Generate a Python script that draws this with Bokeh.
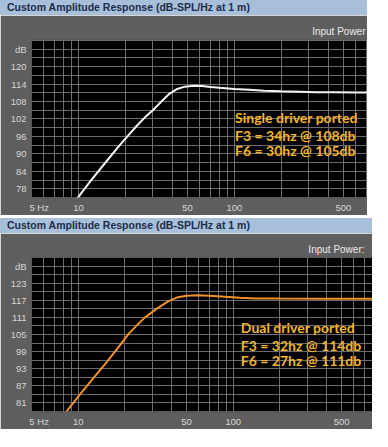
from bokeh.plotting import figure
from bokeh.models import FixedTicker, Div
from bokeh.layouts import column
from bokeh.core.properties import value
from bokeh.embed import file_html
from bokeh.resources import INLINE

HEADER = "Custom Amplitude Response (dB-SPL/Hz at 1 m)"

# Single driver ported (white curve)
freq_single = [9.5, 10, 12, 15, 18, 20.6, 24, 27, 30, 34, 38, 43, 48, 55, 62, 70, 80,
               100, 125, 155, 200, 260, 330, 450, 600, 800]
db_single = [73.5, 75.2, 80.8, 87.2, 92.4, 96.0, 100.0, 102.8, 105.0, 108.0, 110.5, 112.3,
             113.1, 113.4, 113.3, 113.0, 112.7, 112.3, 112.0, 111.7, 111.5, 111.35, 111.2,
             111.15, 111.1, 111.1]

# Dual driver ported (orange curve)
freq_dual = [8, 8.4, 10, 12, 15, 18, 21.2, 24, 27, 32, 38, 44, 50, 60, 70, 89, 110, 140,
             200, 400, 900]
db_dual = [76.5, 78.0, 83.2, 88.5, 94.8, 100.2, 105.3, 108.3, 111.0, 114.0, 116.6, 118.1,
           118.6, 118.8, 118.6, 118.2, 117.9, 117.65, 117.6, 117.55, 117.55]

x_tick_hz = [5, 10, 50, 100, 500]
x_tick_labels = ["5 Hz", "10", "50", "100", "500"]
x_grid_hz = [5, 6, 7, 8, 9, 10, 20, 30, 40, 50, 60, 70, 80, 90, 100,
             200, 300, 400, 500, 600, 700, 800, 900]

y_ticks_single = [78, 84, 90, 96, 102, 108, 114, 120, 126]
y_labels_single = ["78", "84", "90", "96", "102", "108", "114", "120", "dB"]
y_grid_single = [75, 78, 81, 84, 87, 90, 93, 96, 99, 102, 105, 108, 111, 114, 117, 120, 123, 126, 129]

y_ticks_dual = [81, 87, 93, 99, 105, 111, 117, 123, 129]
y_labels_dual = ["81", "87", "93", "99", "105", "111", "117", "123", "dB"]
y_grid_dual = [78, 81, 84, 87, 90, 93, 96, 99, 102, 105, 108, 111, 114, 117, 120, 123, 126, 129, 132]

notes_single = ["Single driver ported", "F3 = 34hz @ 108db", "F6 = 30hz @ 105db"]
notes_dual = ["Dual driver ported", "F3 = 32hz @ 114db", "F6 = 27hz @ 111db"]

PANEL = "#5e5e5e"
HEAD_BG = "#a8bfd9"
GRID = "#6c6c6c"
TXT = "#d6d6d6"
NOTE = "#f2b52c"


def header(width, top_gap):
    html = ('<div style="background:%s;height:15px;line-height:15px;padding-left:7px;'
            'box-sizing:border-box;width:%dpx;font-family:\'Liberation Sans\';font-weight:bold;'
            'font-size:10.5px;color:#1c2c4c;white-space:nowrap;overflow:hidden;">%s</div>'
            % (HEAD_BG, width, HEADER))
    return Div(text=html, width=width, height=15, margin=(top_gap, 0, 0, 0))


def panel(width, height, xr, yr, left, top, bottom, title_text, title_offset,
          yt, yl, yg, fx, fy, color, notes, nx, ny):
    p = figure(width=width, height=height, x_axis_type="log", x_range=xr, y_range=yr,
               output_backend="svg", toolbar_location=None,
               min_border_left=left, min_border_right=0, min_border_top=top,
               min_border_bottom=bottom)
    p.background_fill_color = "black"
    p.border_fill_color = PANEL
    p.outline_line_color = None

    p.title.text = title_text
    p.title.align = "right"
    p.title.text_color = "#e8e8e8"
    p.title.text_font = "Liberation Sans"
    p.title.text_font_style = "normal"
    p.title.text_font_size = "10px"
    p.title.standoff = 6
    p.title.offset = title_offset

    # x axis: first label sits just right of the 5 Hz edge, as in the original
    label_pos = [5.6] + x_tick_hz[1:]
    p.xaxis.ticker = FixedTicker(ticks=label_pos)
    p.xaxis.major_label_overrides = {k: v for k, v in zip(label_pos, x_tick_labels)}
    p.yaxis.ticker = FixedTicker(ticks=yt)
    p.yaxis.major_label_overrides = {k: v for k, v in zip(yt, yl)}
    for ax in (p.xaxis[0], p.yaxis[0]):
        ax.axis_line_color = None
        ax.major_tick_line_color = None
        ax.minor_tick_line_color = None
        ax.major_tick_in = 0
        ax.major_tick_out = 0
        ax.major_label_text_color = TXT
        ax.major_label_text_font = "Liberation Sans"
        ax.major_label_text_font_size = "9.5px"
    p.xaxis.major_label_standoff = 4
    p.yaxis.major_label_standoff = 5

    p.xgrid.ticker = FixedTicker(ticks=x_grid_hz)
    p.ygrid.ticker = FixedTicker(ticks=yg)
    for g in (p.xgrid[0], p.ygrid[0]):
        g.grid_line_color = GRID
        g.grid_line_width = 1

    p.line(fx, fy, line_color=color, line_width=2)
    p.text(x=[nx] * 3, y=ny, text=notes, text_color=NOTE,
           text_font=value("Lato"), text_font_style="bold", text_font_size="14px",
           text_baseline="middle", text_align="left")
    return p


p1 = panel(367, 200, (5, 713), (75, 129.3), 31, 24, 17, "Input Power", 2,
           y_ticks_single, y_labels_single, y_grid_single,
           freq_single, db_single, "#f4f4f4", notes_single, 101, [102.6, 96.3, 91.0])
p2 = panel(372, 196, (5, 791), (78, 132), 29, 24, 16, "Input Power:", 8,
           y_ticks_dual, y_labels_dual, y_grid_dual,
           freq_dual, db_dual, "#f0922a", notes_dual, 112, [107.3, 101.3, 95.8])

layout = column(header(367, 0), p1, header(372, 3), p2, spacing=0)

open("out.html", "w").write(file_html(layout, INLINE))
